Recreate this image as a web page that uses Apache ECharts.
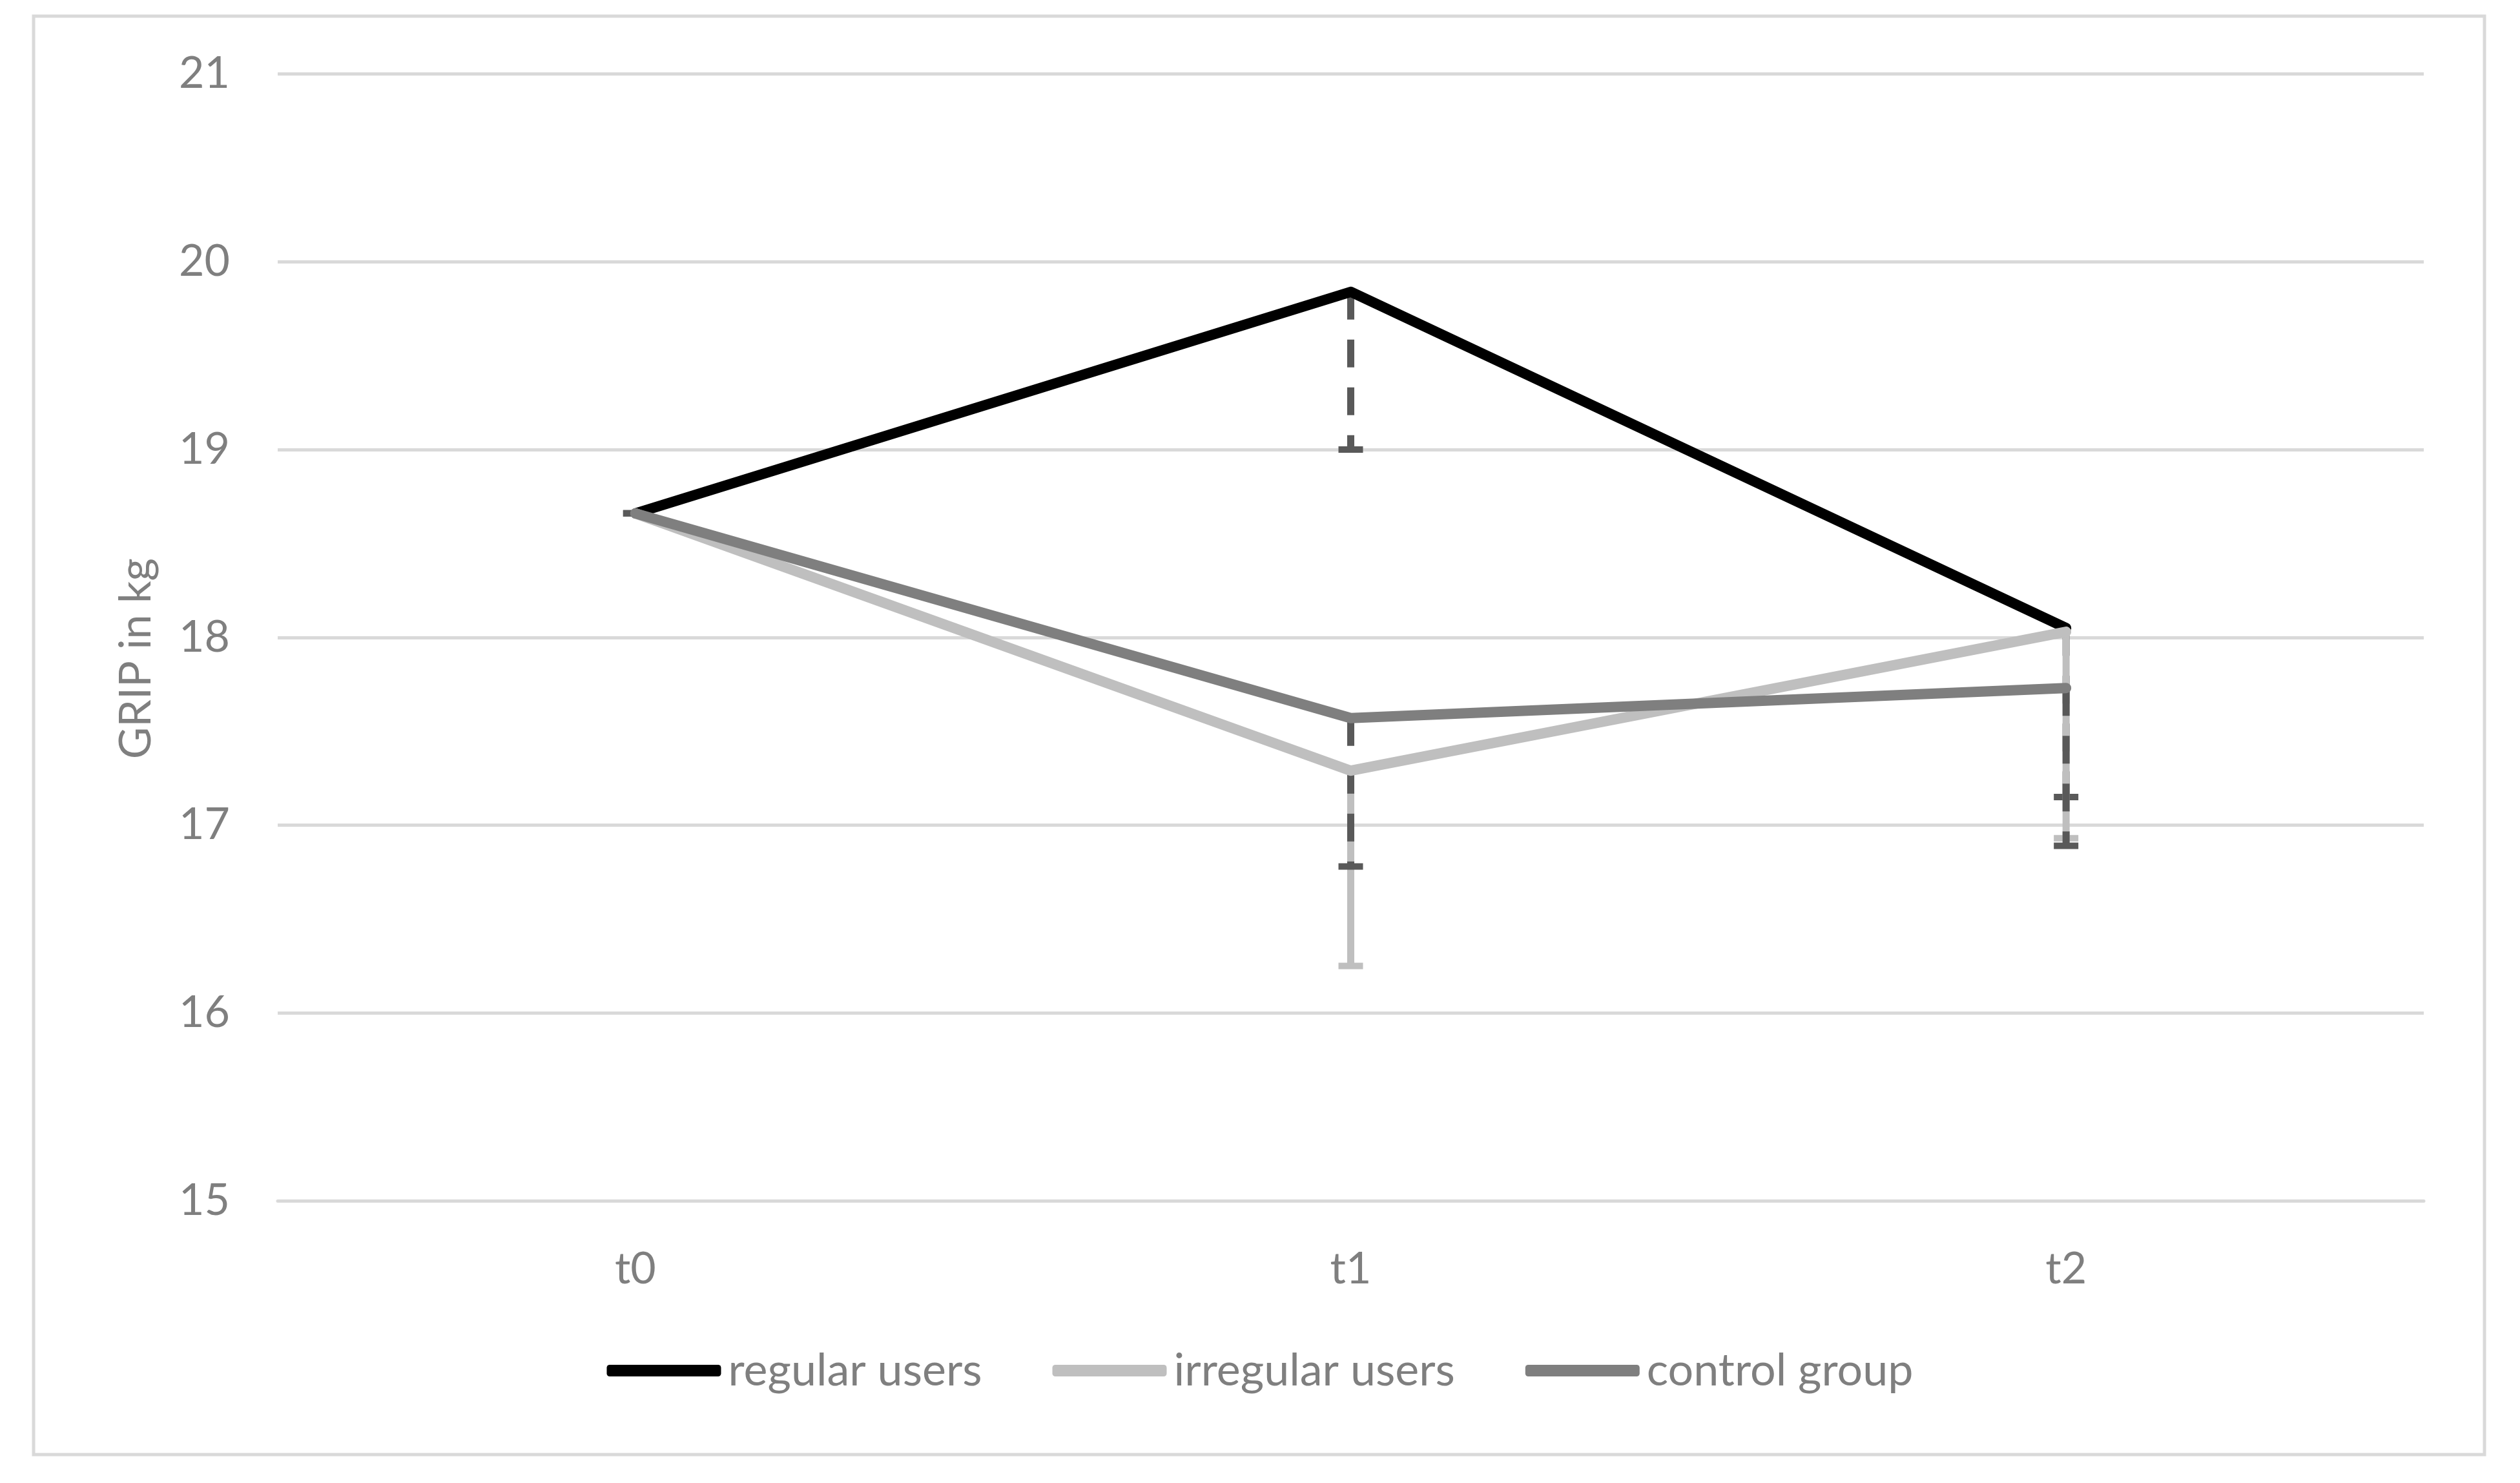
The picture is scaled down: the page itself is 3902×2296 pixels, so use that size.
<!DOCTYPE html>
<html>
<head>
<meta charset="utf-8">
<script src="https://cdn.jsdelivr.net/npm/echarts@6/dist/echarts.min.js"></script>
<style>
html,body{margin:0;padding:0;background:#fff;}
#chart{width:3902px;height:2296px;}
</style>
</head>
<body>
<div id="chart"></div>
<script>
// ---- data ----
const categories = ['t0', 't1', 't2'];
const seriesNames = ['regular users', 'irregular users', 'control group'];
const regularUsers = [18.66, 19.84, 18.05];
const irregularUsers = [18.66, 17.29, 18.03];
const controlGroup = [18.66, 17.57, 17.73];
// minus-direction error amounts
const regularErr = [0, 0.84, 0.90];
const irregularErr = [0, 1.04, 1.10];
const controlErr = [0, 0.79, 0.84];
const yTicks = [15, 16, 17, 18, 19, 20, 21];

const FONT = 'Lato';
const TXT = '#7f7f7f';
const GRID = '#d9d9d9';

function errSeries(name, vals, errs, color, dash, z) {
  return {
    name: name,
    type: 'custom',
    z: z,
    silent: true,
    encode: { x: 0, y: [1, 2] },
    data: categories.map((c, i) => [i, vals[i], vals[i] - errs[i]]),
    renderItem: function (params, api) {
      const top = api.coord([api.value(0), api.value(1)]);
      const bot = api.coord([api.value(0), api.value(2)]);
      const hw = 19;
      const children = [];
      if (Math.abs(bot[1] - top[1]) > 0.5) {
        children.push({
          type: 'line',
          shape: { x1: top[0], y1: top[1], x2: bot[0], y2: bot[1] },
          style: { stroke: color, lineWidth: 11, lineDash: dash, lineCap: 'butt' }
        });
      }
      children.push({
        type: 'line',
        shape: { x1: bot[0] - hw, y1: bot[1], x2: bot[0] + hw, y2: bot[1] },
        style: { stroke: color, lineWidth: 10, lineCap: 'butt' }
      });
      return { type: 'group', children: children };
    }
  };
}

function lineSeries(name, vals, color, z) {
  return {
    name: name,
    type: 'line',
    z: z,
    data: vals,
    symbol: 'none',
    showSymbol: false,
    color: color,
    lineStyle: { color: color, width: 16, cap: 'round', join: 'round' }
  };
}

const chart = echarts.init(document.getElementById('chart'));
chart.setOption({
  animation: false,
  backgroundColor: '#ffffff',
  textStyle: { fontFamily: FONT },
  graphic: [{
    type: 'rect',
    shape: { x: 52, y: 25, width: 3795, height: 2227 },
    style: { fill: 'none', stroke: GRID, lineWidth: 5 },
    z: -1
  }],
  grid: { left: 430, right: 149, top: 114.5, bottom: 437 },
  legend: {
    data: seriesNames,
    left: 'center',
    top: 2082,
    icon: 'roundRect',
    itemWidth: 177,
    itemHeight: 18,
    itemGap: 109,
    textStyle: { fontFamily: FONT, fontSize: 70, color: TXT, padding: [0, 0, 0, 6] }
  },
  xAxis: {
    type: 'category',
    data: categories,
    boundaryGap: true,
    axisLine: { show: true, lineStyle: { color: GRID, width: 5 } },
    axisTick: { show: false },
    axisLabel: { margin: 72, fontSize: 68, color: TXT, fontFamily: FONT },
    splitLine: { show: false }
  },
  yAxis: {
    type: 'value',
    min: yTicks[0],
    max: yTicks[yTicks.length - 1],
    interval: 1,
    name: 'GRIP in kg',
    nameLocation: 'middle',
    nameGap: 185,
    nameTextStyle: { fontSize: 68, color: TXT, fontFamily: FONT, padding: [0, 66, 0, 0] },
    axisLine: { show: false },
    axisTick: { show: false },
    axisLabel: { margin: 74, fontSize: 68, color: TXT, fontFamily: FONT },
    splitLine: { show: true, lineStyle: { color: GRID, width: 5 } }
  },
  series: [
    errSeries('regular users err', regularUsers, regularErr, '#595959', [43, 31], 2),
    errSeries('irregular users err', irregularUsers, irregularErr, '#bfbfbf', null, 3),
    errSeries('control group err', controlGroup, controlErr, '#595959', [43, 31], 4),
    lineSeries(seriesNames[0], regularUsers, '#000000', 5),
    lineSeries(seriesNames[1], irregularUsers, '#bfbfbf', 6),
    lineSeries(seriesNames[2], controlGroup, '#7f7f7f', 7)
  ]
});
</script>
</body>
</html>
